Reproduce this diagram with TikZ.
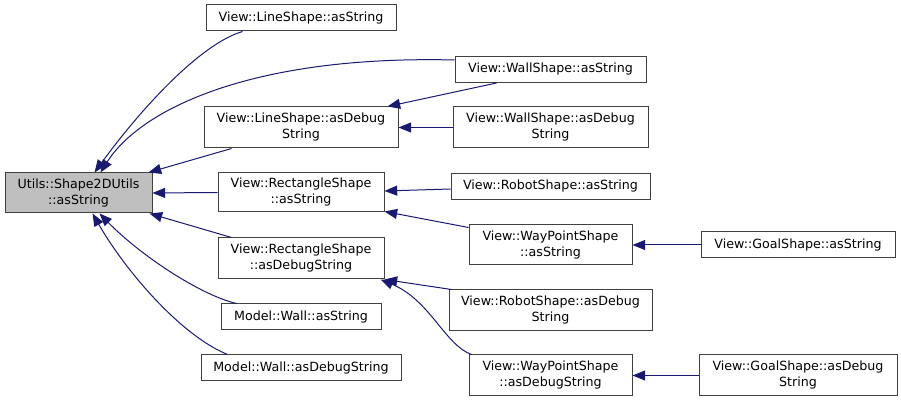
\documentclass[tikz,border=0pt]{standalone}
\usepackage{fontspec}
\setmainfont{DejaVu Sans}
\usepackage{tikz}
\usetikzlibrary{arrows.meta,calc}
\definecolor{dxnavy}{RGB}{25,25,112}
\definecolor{dxframe}{RGB}{64,64,64}
\definecolor{dxroot}{RGB}{191,191,191}

\begin{document}
\begin{tikzpicture}[x=0.75pt,y=-0.75pt,
  fn/.style={draw=dxframe,fill=white,line width=0.75pt,inner sep=0pt,align=center,
    font=\fontsize{9.5}{12}\selectfont,minimum height=19.5pt},
  fntwo/.style={fn,minimum height=30.75pt},
  call/.style={draw=dxnavy,line width=0.75pt,-{Triangle[length=9.5pt,width=7.5pt]}}]
  \useasboundingbox (0,0) rectangle (901,402);
  % Called function
  \node[fntwo,fill=dxroot,minimum width=110.25pt,minimum height=30pt] (root) at (78.5,193) {Utils::Shape2DUtils\\::asString};
  % First level callers
  \node[fn,minimum width=142.5pt] (lineStr) at (301,18) {View::LineShape::asString};
  \node[fntwo,minimum width=145.5pt] (lineDbg) at (301,127.5) {View::LineShape::asDebug\\String};
  \node[fntwo,minimum width=124.5pt,minimum height=29.25pt] (rectStr) at (301,192.5) {View::RectangleShape\\::asString};
  \node[fntwo,minimum width=124.5pt] (rectDbg) at (301,258.5) {View::RectangleShape\\::asDebugString};
  \node[fn,minimum width=120pt] (wallStr) at (301,317) {Model::Wall::asString};
  \node[fn,minimum width=150pt] (wallDbg) at (301,368) {Model::Wall::asDebugString};
  % Second level callers
  \node[fn,minimum width=143.25pt] (wsStr) at (550.5,69.5) {View::WallShape::asString};
  \node[fntwo,minimum width=146.25pt] (wsDbg) at (550.5,127.5) {View::WallShape::asDebug\\String};
  \node[fn,minimum width=149.25pt] (robotStr) at (550.5,186.5) {View::RobotShape::asString};
  \node[fntwo,minimum width=122.25pt,minimum height=30pt] (wpStr) at (550.5,245) {View::WayPointShape\\::asString};
  \node[fntwo,minimum width=152.25pt] (robotDbg) at (550.5,310.5) {View::RobotShape::asDebug\\String};
  \node[fntwo,minimum width=122.25pt] (wpDbg) at (550.5,375.5) {View::WayPointShape\\::asDebugString};
  % Third level callers
  \node[fn,minimum width=145.5pt] (goalStr) at (798,245) {View::GoalShape::asString};
  \node[fntwo,minimum width=148.5pt] (goalDbg) at (798,375.5) {View::GoalShape::asDebug\\String};
  % Calls into root
  \draw[call] ($(lineStr.south west)+(37,0)$) .. controls (200,44) and (140,110) .. ($(root.north west)+(90,0)$);
  \draw[call] ($(wsStr.north west)+(0,4)$) .. controls (250,55) and (140,110) .. ($(root.north west)+(96,0)$);
  \draw[call] ($(lineDbg.south west)+(28,0)$) -- ($(root.north east)+(-4,0)$);
  \draw[call] (rectStr.west) -- (root.east);
  \draw[call] ($(rectDbg.north west)+(14,0)$) -- ($(root.south east)+(-3,0)$);
  \draw[call] ($(wallStr.north west)+(16,0)$) .. controls (200,295) and (140,255) .. ($(root.south west)+(95,0)$);
  \draw[call] ($(wallDbg.north west)+(27,0)$) .. controls (180,335) and (125,270) .. ($(root.south west)+(88,0)$);
  % Calls into first level
  \draw[call] ($(wsStr.south west)+(42,0)$) -- ($(lineDbg.north east)+(-11,0)$);
  \draw[call] (wsDbg.west) -- (lineDbg.east);
  \draw[call] ($(robotStr.west)+(0,2.5)$) -- ($(rectStr.east)+(0,-1.5)$);
  \draw[call] ($(wpStr.north west)+(0,3)$) -- ($(rectStr.south east)+(0,-1)$);
  \draw[call] ($(robotDbg.north west)+(3,0)$) -- (rectDbg.south east);
  \draw[call] ($(wpDbg.north west)+(3,0)$) .. controls (445,345) and (430,300) .. ($(rectDbg.south east)+(-4,0)$);
  % Calls into second level
  \draw[call] (goalStr.west) -- (wpStr.east);
  \draw[call] (goalDbg.west) -- (wpDbg.east);
\end{tikzpicture}
\end{document}
